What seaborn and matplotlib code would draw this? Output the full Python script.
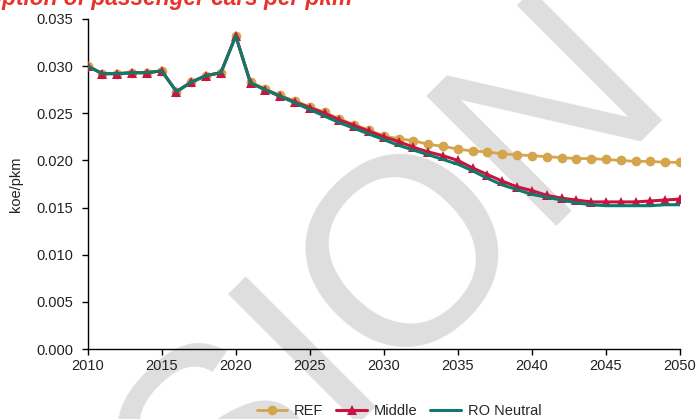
import matplotlib
matplotlib.use("Agg")
import matplotlib.pyplot as plt
import seaborn as sns
import pandas as pd

years = list(range(2010, 2051))

ref = [0.0300, 0.0292, 0.0292, 0.0293, 0.0293, 0.0295, 0.0273, 0.0283, 0.0290, 0.0293, 0.0332,
       0.0283, 0.0276, 0.0269, 0.0263, 0.0257, 0.0251, 0.0244, 0.0238, 0.0232, 0.0226,
       0.0223, 0.0221, 0.0217, 0.0215, 0.0212, 0.0210, 0.0209, 0.0207, 0.0206, 0.0205,
       0.0204, 0.0203, 0.0202, 0.0202, 0.0201, 0.0200, 0.0199, 0.0199, 0.0198, 0.0198]

middle = [0.0300, 0.0292, 0.0292, 0.0293, 0.0293, 0.0295, 0.0273, 0.0283, 0.0290, 0.0293, 0.0332,
          0.0282, 0.0275, 0.0268, 0.0262, 0.0256, 0.0250, 0.0243, 0.0237, 0.0231, 0.0225,
          0.0220, 0.0214, 0.0209, 0.0205, 0.0200, 0.0192, 0.0185, 0.0178, 0.0172, 0.0168,
          0.0163, 0.0160, 0.0158, 0.0156, 0.0156, 0.0156, 0.0156, 0.0157, 0.0158, 0.0159]

ro_neutral = [0.0300, 0.0292, 0.0292, 0.0293, 0.0293, 0.0295, 0.0273, 0.0283, 0.0290, 0.0293, 0.0332,
              0.0282, 0.0275, 0.0268, 0.0261, 0.0254, 0.0247, 0.0240, 0.0234, 0.0228, 0.0222,
              0.0216, 0.0211, 0.0206, 0.0201, 0.0196, 0.0189, 0.0181, 0.0174, 0.0169, 0.0164,
              0.0161, 0.0158, 0.0155, 0.0153, 0.0152, 0.0152, 0.0152, 0.0152, 0.0153, 0.0153]

series_names = ["REF", "Middle", "RO Neutral"]
y_ticks = [0.000, 0.005, 0.010, 0.015, 0.020, 0.025, 0.030, 0.035]
x_ticks = [2010, 2015, 2020, 2025, 2030, 2035, 2040, 2045, 2050]

sns.set_theme(style="white")
plt.rcParams["font.family"] = ["Liberation Sans", "DejaVu Sans"]

fig = plt.figure(figsize=(6.96, 4.19), dpi=100)
ax = fig.add_axes([0.1259, 0.167, 0.977 - 0.1259, 0.9547 - 0.167])
ax.set_facecolor("none")

# faint diagonal watermark behind the plot
fig.text(0.362, -0.2625, "VERSION", fontsize=193, color="#dedede",
         rotation=45, rotation_mode="anchor", ha="center", va="baseline",
         zorder=-5)

df = pd.DataFrame({"year": years, "REF": ref, "Middle": middle, "RO Neutral": ro_neutral})

sns.lineplot(data=df, x="year", y="REF", ax=ax, color="#d4a54c", lw=2.0,
             marker="o", markersize=7, markeredgewidth=0, label="REF", zorder=3)
sns.lineplot(data=df, x="year", y="Middle", ax=ax, color="#c8143f", lw=2.2,
             marker="^", markersize=7.5, markeredgewidth=0, label="Middle", zorder=4)
sns.lineplot(data=df, x="year", y="RO Neutral", ax=ax, color="#0f7a6c", lw=2.2,
             label="RO Neutral", zorder=5)

ax.set_xlim(2010, 2050)
ax.set_ylim(0, 0.035)
ax.set_xticks(x_ticks)
ax.set_xticklabels([str(t) for t in x_ticks])
ax.set_yticks(y_ticks)
ax.set_yticklabels([f"{t:.3f}" for t in y_ticks])
ax.set_xlabel("")
ax.set_ylabel("koe/pkm", fontsize=10.5, color="#222222", labelpad=10)

for side in ["top", "right"]:
    ax.spines[side].set_visible(False)
for side in ["left", "bottom"]:
    ax.spines[side].set_color("black")
    ax.spines[side].set_linewidth(1.0)
ax.tick_params(axis="both", which="major", direction="out", length=4, width=1,
               color="black", labelsize=10.5, labelcolor="#222222",
               left=True, bottom=True)
ax.tick_params(axis="y", pad=6.2)
ax.tick_params(axis="x", pad=3.5)

leg = ax.legend(loc="center", bbox_to_anchor=(399 / 696, 1 - 411 / 419),
                bbox_transform=fig.transFigure, ncol=3, frameon=False,
                fontsize=10.5, handlelength=2.1, handletextpad=0.45,
                columnspacing=0.9, borderaxespad=0)

fig.text(352 / 696, 1 - 5.5 / 419, "Energy consumption of passenger cars per pkm",
         color="#e8322b", fontsize=16.3, fontweight="bold", fontstyle="italic",
         ha="right", va="baseline")

fig.savefig("out.png", dpi=100)
